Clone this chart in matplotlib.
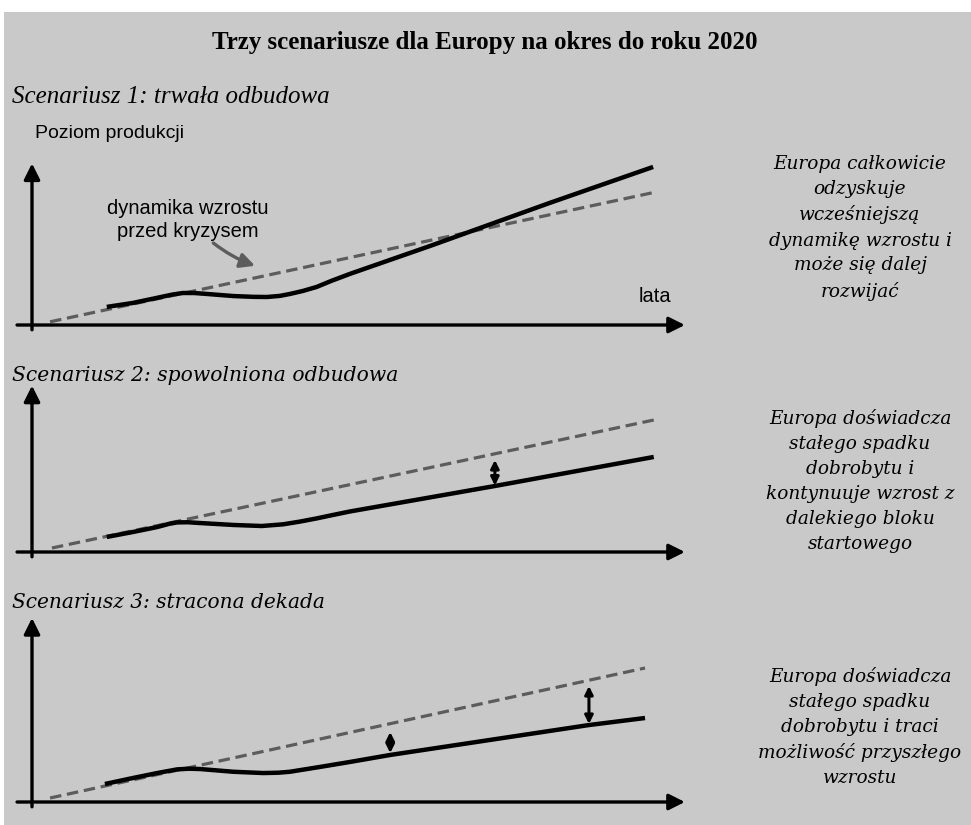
import matplotlib
matplotlib.use('Agg')
import matplotlib.pyplot as plt
from matplotlib.patches import Rectangle

W, H = 971, 825

# --- data (t = lata, L = poziom produkcji, jednostki umowne) ---
trend1_t = [0.29, 10.0]
trend1_L = [2.0, 83.0]
path1_t = [1.20, 1.62, 2.01, 2.25, 2.42, 2.60, 2.81, 3.23, 3.55, 3.77, 3.98, 4.14, 4.35,
           4.57, 4.80, 5.10, 6.39, 8.31, 9.97]
path1_L = [11.3, 13.8, 17.0, 19.0, 20.0, 20.0, 19.4, 18.1, 17.6, 17.5, 18.2, 19.4, 21.3,
           23.8, 27.5, 31.9, 49.4, 76.3, 98.8]

trend2_t = [0.32, 9.98]
trend2_L = [2.5, 82.5]
path2_t = [1.20, 1.62, 2.01, 2.20, 2.33, 2.50, 2.70, 3.23, 3.69, 4.03, 4.30, 4.57, 4.85,
           5.10, 7.43, 9.98]
path2_L = [9.4, 12.5, 15.6, 17.6, 18.5, 18.6, 18.1, 16.9, 16.25, 17.3, 19.0, 21.0, 23.3,
           25.3, 41.25, 59.4]
gap2_t = [7.43]
gap2_lo = [41.5]
gap2_hi = [57.5]

trend3_t = [0.29, 9.84]
trend3_L = [2.5, 83.75]
path3_t = [1.17, 1.62, 2.01, 2.33, 2.52, 2.70, 3.23, 3.71, 3.95, 4.14, 4.62, 5.10, 5.75,
           8.94, 9.84]
path3_L = [11.25, 15.0, 18.1, 20.4, 20.8, 20.6, 18.9, 18.1, 18.3, 18.9, 21.9, 25.0, 29.4,
           48.1, 52.5]
gap3_t = [5.75, 8.94]
gap3_lo = [30.6, 48.75]
gap3_hi = [43.75, 72.5]

scen_titles = ["Scenariusz 1: trwała odbudowa",
               "Scenariusz 2: spowolniona odbudowa",
               "Scenariusz 3: stracona dekada"]
side_texts = ["Europa całkowicie\nodzyskuje\nwcześniejszą\ndynamikę wzrostu i\nmoże się dalej\nrozwijać",
              "Europa doświadcza\nstałego spadku\ndobrobytu i\nkontynuuje wzrost z\ndalekiego bloku\nstartowego",
              "Europa doświadcza\nstałego spadku\ndobrobytu i traci\nmożliwość przyszłego\nwzrostu"]

BG = '#c9c9c9'
DASH = '#5c5c5c'
PX_T, PX_L = 62.3, 1.6   # pikseli na jednostke
X0 = 32

fig = plt.figure(figsize=(W / 100, H / 100), dpi=100)
fig.patch.set_facecolor('white')
fig.patches.append(Rectangle((4 / W, 0), 1, 1 - 12 / H, transform=fig.transFigure,
                             facecolor=BG, edgecolor='none', zorder=-5))


def fx(px):
    return px / W


def fy(py):
    return 1 - py / H


def make_panel(axis_y, top_px, bot_px):
    ax = fig.add_axes([0, fy(bot_px), 1, (bot_px - top_px) / H])
    ax.set_xlim((0 - X0) / PX_T, (W - X0) / PX_T)
    ax.set_ylim((axis_y - bot_px) / PX_L, (axis_y - top_px) / PX_L)
    ax.axis('off')
    ax.patch.set_alpha(0)
    return ax


def axes_arrows(ax, ytip):
    ap = dict(arrowstyle='-|>', lw=2.4, color='black', mutation_scale=24,
              shrinkA=0, shrinkB=0)
    ax.annotate('', xy=(10.48, 0), xytext=(-0.24, 0), arrowprops=ap)
    ax.annotate('', xy=(0, ytip), xytext=(0, -3), arrowprops=ap)


def draw(ax, tt, tl, pt, pl):
    ax.plot(tt, tl, color=DASH, lw=2.3, dashes=(3.6, 1.8), solid_capstyle='butt')
    ax.plot(pt, pl, color='black', lw=3.2, solid_capstyle='butt', solid_joinstyle='round')


def gap_arrows(ax, ts, lo, hi):
    for t, a, b in zip(ts, lo, hi):
        ax.annotate('', xy=(t, b), xytext=(t, a),
                    arrowprops=dict(arrowstyle='<|-|>', lw=2.2, color='black',
                                    mutation_scale=12, shrinkA=0, shrinkB=0))


ax1 = make_panel(325, 150, 345)
ax2 = make_panel(552, 380, 570)
ax3 = make_panel(802, 612, 822)

axes_arrows(ax1, 101)
axes_arrows(ax2, 104)
axes_arrows(ax3, 115)

draw(ax1, trend1_t, trend1_L, path1_t, path1_L)
draw(ax2, trend2_t, trend2_L, path2_t, path2_L)
draw(ax3, trend3_t, trend3_L, path3_t, path3_L)
gap_arrows(ax2, gap2_t, gap2_lo, gap2_hi)
gap_arrows(ax3, gap3_t, gap3_lo, gap3_hi)

ax1.text(2.50, 65.6, "dynamika wzrostu\nprzed kryzysem", ha='center', va='center',
         fontsize=14.5, family='Liberation Sans', linespacing=1.25)
ax1.annotate('', xy=(3.58, 37.0), xytext=(2.91, 51.25),
             arrowprops=dict(arrowstyle='-|>', lw=2.4, color=DASH, mutation_scale=22,
                             shrinkA=0, shrinkB=0, connectionstyle='arc3,rad=0.08'))
ax1.text(10.0, 17.5, "lata", ha='center', va='center', fontsize=14.5, family='Liberation Sans')

fig.text(fx(485), fy(42), "Trzy scenariusze dla Europy na okres do roku 2020",
         ha='center', va='center', fontsize=18, weight='bold', family='Liberation Serif')
fig.text(fx(35), fy(133), "Poziom produkcji", ha='left', va='center',
         fontsize=14, family='Liberation Sans')

fig.text(fx(12), fy(97), scen_titles[0], ha='left', va='center', fontsize=18,
         style='italic', family='Liberation Serif')
fig.text(fx(12), fy(375), scen_titles[1], ha='left', va='center', fontsize=14.6,
         style='italic', family='DejaVu Serif')
fig.text(fx(12), fy(603), scen_titles[2], ha='left', va='center', fontsize=14.5,
         style='italic', family='DejaVu Serif')

for txt, cy in zip(side_texts, [228, 481, 727]):
    fig.text(fx(860), fy(cy), txt, ha='center', va='center', fontsize=13.3,
             style='italic', family='DejaVu Serif', linespacing=1.5)

fig.savefig('out.png', dpi=100, facecolor=fig.get_facecolor())
